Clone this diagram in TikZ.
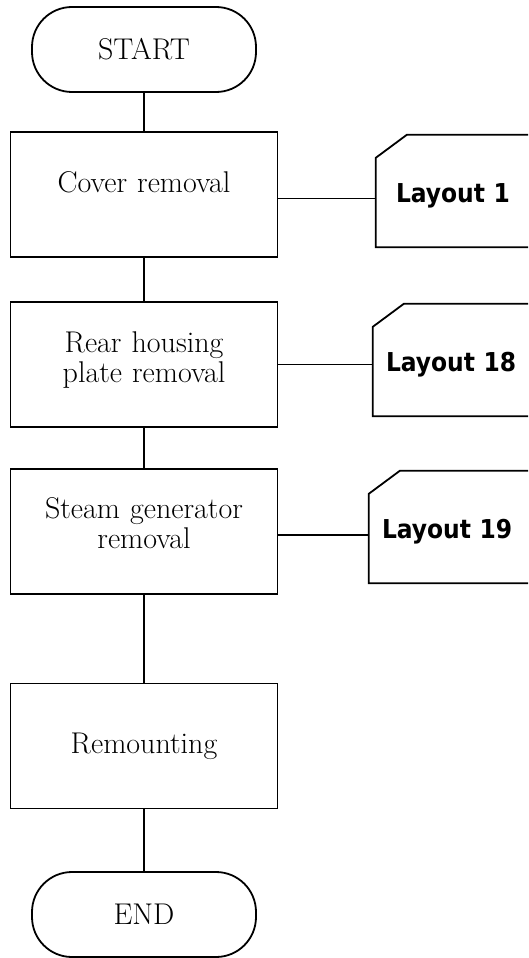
\documentclass[tikz,border=0pt]{standalone}
\usepackage{fontspec}
\usepackage{tikz}
\newfontfamily\layoutfont{DejaVu Sans Condensed Bold}
\tikzstyle{link}     = [line width=1.8pt]
\tikzstyle{terminal} = [rectangle, draw, line width=1.8pt, rounded corners=40pt, minimum width=224pt, minimum height=85pt, font=\fontsize{30}{30}\selectfont]
\tikzstyle{block}    = [rectangle, draw, line width=1.8pt, text width=250pt, text centered, minimum width=267pt, minimum height=125pt, font=\fontsize{30}{30}\selectfont]
\tikzstyle{card}     = [rectangle, text width=150pt, align=left, inner xsep=13pt, text height=23pt, text depth=0pt, minimum height=112pt, font=\layoutfont\fontsize{26}{30}\selectfont]
\tikzset{every node/.style={align=center}}

\begin{document}
\begin{tikzpicture}[x=1pt, y=-1pt]
    \clip (0, 0) rectangle (528, 958);

    \node (start)   at (144, 49.5)  [terminal] {START};
    \node (cover)   at (144, 194.5) [block, text height=19pt, text depth=24pt] {Cover removal};
    \node (rear)    at (144, 364.5) [block, text depth=44pt] {Rear housing\\plate removal};
    \node (steam)   at (144, 531.5) [block, text depth=46pt] {Steam generator\\removal};
    \node (remount) at (144, 746)   [block] {Remounting};
    \node (end)     at (144, 914.5) [terminal] {END};

    \node (lay1)  at (471, 191) [card, inner xsep=20pt] {Layout 1};
    \node (lay18) at (461, 360) [card] {Layout 18};
    \node (lay19) at (457, 527) [card] {Layout 19};

    % cards with the cut corner
    \draw [link] (lay1.north east) -- ([xshift=31pt]lay1.north west) -- ([yshift=-23pt]lay1.north west)
                 -- (lay1.south west) -- (lay1.south east);
    \draw [link] (lay18.north east) -- ([xshift=31pt]lay18.north west) -- ([yshift=-23pt]lay18.north west)
                 -- (lay18.south west) -- (lay18.south east);
    \draw [link] (lay19.north east) -- ([xshift=31pt]lay19.north west) -- ([yshift=-23pt]lay19.north west)
                 -- (lay19.south west) -- (lay19.south east);

    \draw [link] (start)   -- (cover);
    \draw [link] (cover)   -- (rear);
    \draw [link] (rear)    -- (steam);
    \draw [link] (steam)   -- (remount);
    \draw [link] (remount) -- (end);

    \draw [link] ([yshift=-4pt]cover.east) -- ([yshift=-4pt]cover.east -| lay1.west);
    \draw [link] (rear.east)  -- (rear.east -| lay18.west);
    \draw [link] ([yshift=-3.5pt]steam.east) -- ([yshift=-3.5pt]steam.east -| lay19.west);
\end{tikzpicture}
\end{document}
